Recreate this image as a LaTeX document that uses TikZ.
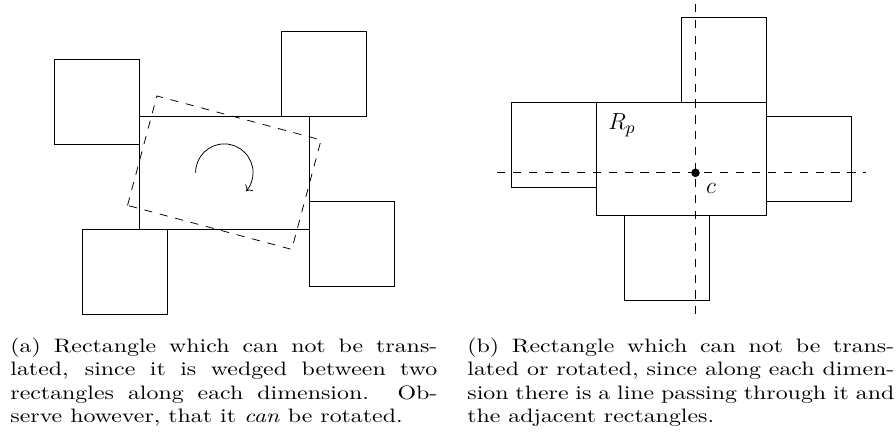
\documentclass[tikz,border=0pt]{standalone}
\usepackage{amsmath,amssymb}
\usepackage{fontspec}
\usepackage{xcolor}
\usepackage{tikz}
\usetikzlibrary{positioning,arrows.meta,calc}
\newfontfamily\capfont{Latin Modern Roman}[FakeStretch=1.23]

\begin{document}
\begin{tikzpicture}[x=43.8pt,y=43.8pt,font=\fontsize{12.5}{15}\selectfont,
		dsh/.style={dash pattern=on 4.2pt off 4pt},
		rot/.style={->},
		captxt/.style={text width=220pt,align=justify,inner sep=0pt,anchor=north west,
			font=\capfont\fontsize{10}{12}\selectfont}]
		\useasboundingbox (-1.639,-2.549) rectangle (8.902,2.698);
		% (a) wedged rectangle
		\draw (0,0) rectangle (2,1.333);
		\draw (-1,1) rectangle (0,2);
		\draw (1.667,1.333) rectangle (2.667,2.333);
		\draw (-0.667,-1) rectangle (0.333,0);
		\draw (2,-0.667) rectangle (3,0.333);
		\draw[dsh,rotate around={-15:(1,0.667)}] (0,0) rectangle (2,1.333);
		\coordinate (ma) at (1,0.667);
		\draw[rot] (ma) ++(180:0.338) arc[start angle=180,end angle=-40,radius=0.338];
		% (b) fixed rectangle
		\begin{scope}[shift={(5.376,0.165)}]
			\draw (0,0) rectangle (2,1.333);
			\draw (1,1.333) rectangle (2,2.333);
			\draw (-1,0.333) rectangle (0,1.333);
			\draw (2,0.167) rectangle (3,1.167);
			\draw (0.333,-1) rectangle (1.333,0);
			\coordinate (c) at (1.167,0.5);
			\draw[dsh] (c) ++(-2.332,0) -- ++(4.338,0);
			\draw[dsh] (c) ++(0,1.986) -- ++(0,-3.651);
			\fill (c) circle (2.2pt);
			\node (rp) at (0.302,1.059) {$R_p$};
			\node (lc) at (1.349,0.321) {$c$};
		\end{scope}
		\node[captxt] (capa) at (-1.521,-1.273) {(a) Rectangle which can not be translated, since it is wedged between two\linebreak rectangles along each dimension. Ob-\linebreak serve however, that it \emph{can} be rotated.};
		\node[captxt] (capb) at (3.855,-1.273) {(b) Rectangle which can not be translated or rotated, since along each dimension there is a line passing through it and the adjacent rectangles.};
	\end{tikzpicture}
\end{document}
